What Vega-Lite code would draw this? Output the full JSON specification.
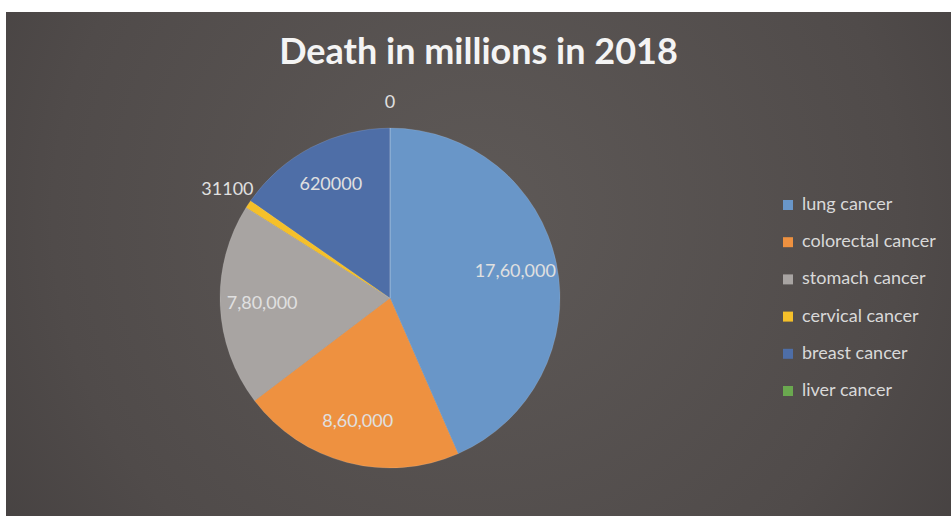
{
  "$schema": "https://vega.github.io/schema/vega-lite/v6.json",
  "width": 951,
  "height": 516,
  "autosize": {"type": "fit", "contains": "padding"},
  "padding": {"top": 12, "left": 6, "right": 0, "bottom": 0},
  "background": "#ffffff",
  "title": {
    "text": "Death in millions in 2018",
    "font": "Lato",
    "fontSize": 36,
    "fontWeight": "bold",
    "color": "#f4f4f4",
    "anchor": "middle",
    "offset": -60
  },
  "config": {"view": {"stroke": null}},
  "layer": [
    {
      "data": {"values": [{"bg": 1}]},
      "mark": {
        "type": "rect",
        "color": {
          "gradient": "radial",
          "x1": 0.5, "y1": 0.45, "r1": 0,
          "x2": 0.5, "y2": 0.45, "r2": 0.75,
          "stops": [
            {"offset": 0, "color": "#5e5957"},
            {"offset": 0.6, "color": "#504b4a"},
            {"offset": 1, "color": "#3e3a3a"}
          ]
        }
      },
      "encoding": {}
    },
    {
      "data": {
        "values": [
          {"cancer": "lung cancer", "value": 1760000, "label": "17,60,000", "rank": 1},
          {"cancer": "colorectal cancer", "value": 860000, "label": "8,60,000", "rank": 2},
          {"cancer": "stomach cancer", "value": 780000, "label": "7,80,000", "rank": 3},
          {"cancer": "cervical cancer", "value": 31100, "label": "31100", "rank": 4},
          {"cancer": "breast cancer", "value": 620000, "label": "620000", "rank": 5},
          {"cancer": "liver cancer", "value": 0, "label": "0", "rank": 6}
        ]
      },
      "encoding": {
        "theta": {"field": "value", "type": "quantitative", "stack": true},
        "order": {"field": "rank", "type": "quantitative"}
      },
      "layer": [
        {
          "mark": {"type": "arc", "outerRadius": 170, "x": 384, "y": 286, "stroke": "#ffffff", "strokeOpacity": 0.15, "strokeWidth": 0.8},
          "encoding": {
            "color": {
              "field": "cancer",
              "type": "nominal",
              "sort": ["lung cancer", "colorectal cancer", "stomach cancer", "cervical cancer", "breast cancer", "liver cancer"],
              "scale": {
                "domain": ["lung cancer", "colorectal cancer", "stomach cancer", "cervical cancer", "breast cancer", "liver cancer"],
                "range": ["#6996c8", "#ee9140", "#a8a4a2", "#f5c02a", "#4e6ea7", "#6aa84f"]
              },
              "legend": {
                "title": null,
                "orient": "none",
                "legendX": 773,
                "legendY": 184,
                "symbolType": "square",
                "symbolSize": 100,
                "symbolStrokeWidth": 0,
                "labelFont": "Lato",
                "labelFontSize": 18,
                "labelColor": "#d9d9d9",
                "labelOffset": 5,
                "rowPadding": 19.2,
                "padding": 0
              }
            }
          }
        },
        {
          "mark": {
            "type": "text", "x": 384, "y": 286, "font": "Lato", "fontSize": 18, "color": "#e0e0e0", "baseline": "middle", "align": "center",
            "radius": {"expr": "datum.value < 100000 ? 195 : 128"}
          },
          "encoding": {
            "text": {"field": "label", "type": "nominal"}
          }
        }
      ]
    }
  ]
}
